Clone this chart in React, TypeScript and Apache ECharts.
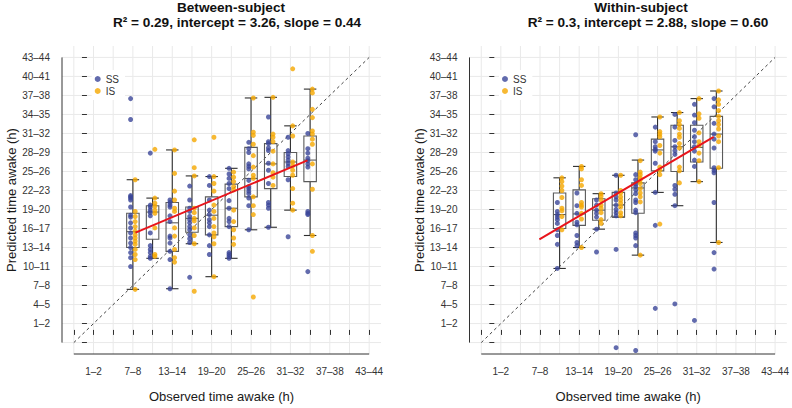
import React, { useEffect, useRef } from "react";
import * as echarts from "echarts";

// ---- axis values (hours) ----
const TICKS = [-2, 1, 4, 7, 10, 13, 16, 19, 22, 25, 28, 31, 34, 37, 40, 43];
const X_LABEL_VALUES = [1, 7, 13, 19, 25, 31, 37, 43];
const Y_LABEL_VALUES = [1, 4, 7, 10, 13, 16, 19, 22, 25, 28, 31, 34, 37, 40, 43];
const AXIS_MIN = -3.8;
const AXIS_MAX = 44.8;
const IDENTITY = [[-2, -2], [43, 43]];

// ---- Between-subject panel ----
const BETWEEN_TITLE = "Between-subject";
const BETWEEN_STATS = "R² = 0.29, intercept = 3.26, slope = 0.44";
const BETWEEN_X = [7, 10, 13, 16, 19, 22, 25, 28, 31, 34];
// [min, Q1, median, Q3, max]
const BETWEEN_BOX = [
  [6.4, 13.0, 15.5, 18.4, 23.7],
  [11.3, 14.3, 18.6, 19.6, 20.8],
  [6.5, 12.4, 16.9, 20.1, 28.4],
  [13.6, 15.4, 17.6, 19.4, 24.3],
  [8.4, 15.0, 18.1, 21.0, 24.2],
  [11.3, 16.3, 19.2, 23.0, 25.5],
  [15.8, 21.0, 23.9, 28.8, 36.6],
  [16.2, 22.3, 26.2, 29.4, 36.7],
  [18.9, 24.2, 26.5, 28.0, 32.2],
  [14.9, 23.4, 26.8, 30.6, 38.0],
];
const BETWEEN_SS = [
  [36.5, 33.2, 21.2, 21.0, 20.8, 20.5, 19.4, 18.1, 17.8, 16.9, 16.1, 15.3, 14.5, 13.7, 13.0, 12.2, 11.4, 10.0],
  [27.9, 19.7, 19.4, 18.9, 18.5, 18.0, 15.3, 13.3, 12.7, 12.2, 11.6, 11.3],
  [20.5, 20.1, 19.7, 19.4, 18.0, 17.1, 14.8, 14.5, 13.7, 12.4, 11.1, 6.5],
  [22.7, 20.5, 19.2, 18.7, 17.9, 17.4, 16.9, 16.3, 15.8, 15.0, 14.4, 13.8, 8.3],
  [24.2, 22.8, 20.5, 18.9, 18.2, 17.4, 16.9, 16.3, 15.0, 13.3, 11.9],
  [25.5, 24.6, 23.9, 23.1, 22.3, 20.4, 19.2, 17.6, 17.1, 16.3, 12.2, 11.9, 11.6, 11.3],
  [29.6, 28.6, 28.0, 26.2, 25.8, 25.4, 23.6, 22.6, 22.3, 21.9, 21.5, 20.8, 19.6, 15.8],
  [33.6, 29.7, 29.4, 28.7, 28.3, 26.3, 25.2, 23.1, 20.1, 19.7, 19.2, 16.2],
  [30.4, 28.3, 27.8, 27.3, 26.8, 26.3, 25.8, 23.7, 14.7],
  [31.0, 28.6, 27.9, 27.1, 26.7, 26.2, 25.7, 18.7, 18.4, 18.2, 9.2],
];
const BETWEEN_IS = [
  [23.7, 18.7, 17.9, 17.1, 16.3, 15.6, 15.0, 14.5, 14.0, 13.5, 12.7, 11.9, 11.1, 6.4],
  [28.5, 20.8, 20.0, 19.5, 18.9, 18.4, 16.1, 11.9, 11.6],
  [28.4, 24.7, 21.9, 20.5, 19.2, 18.7, 16.1, 14.8, 12.7, 11.4, 10.7],
  [30.0, 25.6, 24.3, 19.2, 18.5, 17.6, 17.2, 16.1, 14.9, 13.6, 6.1],
  [30.4, 24.2, 23.1, 21.9, 19.7, 18.7, 17.6, 16.3, 15.3, 14.7, 13.6, 8.4],
  [24.9, 24.1, 23.4, 22.6, 22.1, 18.9, 17.1, 15.8, 14.5, 13.5],
  [36.6, 31.2, 30.7, 29.3, 27.5, 25.7, 24.4, 23.9, 21.0, 19.6, 18.2, 5.2],
  [36.7, 30.9, 30.4, 29.7, 28.2, 26.2, 24.8, 24.1, 22.8],
  [41.2, 32.2, 30.6, 26.5, 25.9, 25.2, 24.4, 22.3, 20.0, 18.9],
  [38.0, 37.4, 34.8, 33.5, 31.4, 30.9, 30.1, 29.3, 26.2, 22.2, 14.9, 12.4],
];
const BETWEEN_FIT = [[7.4, 15.35], [33.6, 26.75]];

// ---- Within-subject panel ----
const WITHIN_TITLE = "Within-subject";
const WITHIN_STATS = "R² = 0.3, intercept = 2.88, slope = 0.60";
const WITHIN_X = [10, 13, 16, 19, 22, 25, 28, 31, 34];
const WITHIN_BOX = [
  [9.7, 16.0, 18.2, 21.6, 24.0],
  [13.0, 16.5, 18.3, 22.1, 25.8],
  [15.9, 17.3, 18.9, 20.7, 21.5],
  [17.8, 17.8, 19.7, 21.7, 24.4],
  [11.8, 18.4, 22.4, 23.2, 26.8],
  [21.7, 25.1, 28.4, 30.1, 33.6],
  [19.6, 25.0, 28.9, 32.3, 34.3],
  [23.4, 26.5, 28.8, 32.3, 36.5],
  [13.8, 25.5, 30.9, 33.7, 37.7],
];
const WITHIN_SS = [
  [20.1, 18.7, 18.2, 17.8, 17.4, 16.8, 15.8, 14.9, 13.5, 9.7],
  [21.6, 19.6, 18.4, 17.0, 16.6, 14.9, 13.8, 13.3],
  [20.5, 19.7, 18.9, 18.4, 17.8, 15.9, 12.3],
  [24.4, 21.6, 21.0, 20.5, 19.7, 19.0, 18.5, 18.0, 12.7, -2.8],
  [30.8, 24.5, 23.7, 23.0, 22.6, 22.1, 21.5, 20.5, 20.1, 18.9, 18.5, 15.3, 14.9, 14.5, 13.3, -3.25],
  [32.0, 29.7, 28.9, 28.5, 28.2, 26.3, 21.7, 16.5, 3.4],
  [34.0, 32.0, 29.9, 28.9, 28.3, 27.7, 22.8, 22.2, 21.4, 19.6, 4.1],
  [35.6, 33.9, 32.7, 31.5, 30.5, 29.7, 28.9, 28.2, 26.8, 25.8, 1.5],
  [36.5, 35.2, 32.6, 30.9, 30.1, 28.7, 25.6, 25.2, 24.8, 20.1, 12.2, 9.6],
];
const WITHIN_IS = [
  [24.0, 23.4, 22.7, 22.0, 20.9, 19.2, 18.8, 17.9, 15.8],
  [25.8, 25.4, 23.7, 22.8, 20.1, 19.7, 19.4, 18.4, 17.5, 13.0],
  [21.5, 21.1, 20.5, 19.7, 19.2, 18.5, 17.4, 16.8],
  [24.4, 22.0, 21.6, 21.0, 20.5, 20.0, 19.4, 18.5, 18.0],
  [26.7, 24.9, 24.5, 24.0, 23.7, 23.1, 22.3, 21.6, 21.0, 20.2, 11.8],
  [33.6, 31.3, 30.9, 30.5, 29.1, 27.9, 25.7, 25.2, 24.5, 16.7],
  [34.3, 33.0, 32.4, 31.8, 30.9, 30.4, 29.4, 28.7, 25.7, 25.1, 23.2],
  [36.5, 34.1, 33.4, 31.1, 29.7, 29.1, 27.9, 26.7, 23.4],
  [37.7, 36.3, 35.6, 34.6, 33.7, 33.0, 32.4, 31.7, 30.6, 29.7, 25.6, 13.8],
];
const WITHIN_FIT = [[6.9, 14.3], [33.6, 30.45]];

// ---- styles ----
const FONT = "'Liberation Sans', Arial, Helvetica, sans-serif";
const SS_COLOR = "#3B4699";
const IS_COLOR = "#F5A800";
const FIT_COLOR = "#E8141B";
const GRID_COLOR = "#E9E9E9";
const AXIS_COLOR = "#333333";
const BOX_COLOR = "#5a5a5a";
const WHISKER_COLOR = "#2e2e2e";
const BOX_WIDTH = 1.9;
const JITTER = 0.35;

const PANELS = [
  { left: 62, titleX: 231, statsX: 237, legendLeft: 91.7, title: BETWEEN_TITLE, stats: BETWEEN_STATS, xs: BETWEEN_X, box: BETWEEN_BOX, ss: BETWEEN_SS, is: BETWEEN_IS, fit: BETWEEN_FIT },
  { left: 469.5, titleX: 641, statsX: 648, legendLeft: 499, title: WITHIN_TITLE, stats: WITHIN_STATS, xs: WITHIN_X, box: WITHIN_BOX, ss: WITHIN_SS, is: WITHIN_IS, fit: WITHIN_FIT },
];

const fmt = (v: number) => `${v}–${v + 1}`;

function points(xs: number[], groups: number[][], offset: number) {
  return groups.flatMap((g, i) => g.map((v) => [xs[i] + offset, v]));
}

function frameRender(params: any, api: any) {
  const children: any[] = [];
  const line = (a: number[], b: number[], stroke: string) =>
    children.push({ type: "line", shape: { x1: a[0], y1: a[1], x2: b[0], y2: b[1] }, style: { stroke, lineWidth: 1 }, silent: true });
  TICKS.forEach((t) => {
    line(api.coord([t, AXIS_MIN]), api.coord([t, AXIS_MAX]), GRID_COLOR);
    line(api.coord([AXIS_MIN, t]), api.coord([AXIS_MAX, t]), GRID_COLOR);
  });
  const first = TICKS[0];
  const last = TICKS[TICKS.length - 1];
  line(api.coord([first, AXIS_MIN]), api.coord([last, AXIS_MIN]), AXIS_COLOR);
  line(api.coord([AXIS_MIN, first]), api.coord([AXIS_MIN, last]), AXIS_COLOR);
  return { type: "group", children };
}

function boxRender(params: any, api: any) {
  const x = api.value(0);
  const lo = api.coord([x, api.value(1)]);
  const q1 = api.coord([x, api.value(2)]);
  const md = api.coord([x, api.value(3)]);
  const q3 = api.coord([x, api.value(4)]);
  const hi = api.coord([x, api.value(5)]);
  const hw = api.size([BOX_WIDTH, 0])[0] / 2;
  const cx = lo[0];
  const ln = (x1: number, y1: number, x2: number, y2: number, stroke: string) => ({
    type: "line",
    shape: { x1, y1, x2, y2 },
    style: { stroke, lineWidth: 1.1 },
  });
  return {
    type: "group",
    children: [
      ln(cx, hi[1], cx, q3[1], WHISKER_COLOR),
      ln(cx, q1[1], cx, lo[1], WHISKER_COLOR),
      ln(cx - hw, hi[1], cx + hw, hi[1], WHISKER_COLOR),
      ln(cx - hw, lo[1], cx + hw, lo[1], WHISKER_COLOR),
      {
        type: "rect",
        shape: { x: cx - hw, y: q3[1], width: 2 * hw, height: q1[1] - q3[1] },
        style: { fill: "none", stroke: BOX_COLOR, lineWidth: 1.1 },
      },
      ln(cx - hw, md[1], cx + hw, md[1], BOX_COLOR),
    ],
  };
}

export default function App() {
  const ref = useRef<HTMLDivElement>(null);
  useEffect(() => {
    if (!ref.current) return;
    const chart = echarts.init(ref.current, null, { renderer: "svg" });
    const grid: any[] = [];
    const xAxis: any[] = [];
    const yAxis: any[] = [];
    const series: any[] = [];
    const legend: any[] = [];
    const graphic: any[] = [];

    PANELS.forEach((p, g) => {
      grid.push({ left: p.left, top: 46, width: 319, height: 312 });
      xAxis.push({
        gridIndex: g,
        type: "value",
        min: AXIS_MIN,
        max: AXIS_MAX,
        name: "Observed time awake (h)",
        nameLocation: "middle",
        nameGap: 36,
        nameTextStyle: { fontFamily: FONT, fontSize: 13, color: "#1a1a1a" },
        axisLine: { show: false },
        axisTick: { show: true, length: 5, customValues: TICKS, lineStyle: { color: AXIS_COLOR, width: 1 } },
        axisLabel: { customValues: X_LABEL_VALUES, formatter: fmt, margin: 12, fontFamily: FONT, fontSize: 10, color: "#333" },
        splitLine: { show: false },
      });
      yAxis.push({
        gridIndex: g,
        type: "value",
        min: AXIS_MIN,
        max: AXIS_MAX,
        name: "Predicted time awake (h)",
        nameLocation: "middle",
        nameGap: 42,
        nameTextStyle: { fontFamily: FONT, fontSize: 13, color: "#1a1a1a" },
        axisLine: { show: false },
        axisTick: { show: true, length: 5, customValues: TICKS, lineStyle: { color: AXIS_COLOR, width: 1 } },
        axisLabel: { customValues: Y_LABEL_VALUES, formatter: fmt, margin: 12, fontFamily: FONT, fontSize: 10, color: "#333" },
        splitLine: { show: false },
      });
      series.push(
        { type: "custom", xAxisIndex: g, yAxisIndex: g, data: [[0, 0]], renderItem: frameRender, silent: true, z: 0 },
        {
          type: "line", xAxisIndex: g, yAxisIndex: g, data: IDENTITY, symbol: "none", silent: true, z: 1,
          lineStyle: { color: "#444", width: 1, type: [3, 3] },
        },
        {
          type: "custom", xAxisIndex: g, yAxisIndex: g, z: 2, silent: true,
          data: p.box.map((b, i) => [p.xs[i], ...b]),
          renderItem: boxRender,
        },
        {
          name: "SS", type: "scatter", xAxisIndex: g, yAxisIndex: g, z: 3,
          data: points(p.xs, p.ss, -JITTER), symbolSize: 5, itemStyle: { color: SS_COLOR },
        },
        {
          name: "IS", type: "scatter", xAxisIndex: g, yAxisIndex: g, z: 3,
          data: points(p.xs, p.is, JITTER), symbolSize: 5, itemStyle: { color: IS_COLOR },
        },
        {
          type: "line", xAxisIndex: g, yAxisIndex: g, data: p.fit, symbol: "none", z: 4,
          lineStyle: { color: FIT_COLOR, width: 2 },
        }
      );
      legend.push({
        data: ["SS", "IS"],
        orient: "vertical",
        left: p.legendLeft,
        top: 70,
        padding: [3, 6, 3, 3],
        backgroundColor: "#ffffff",
        icon: "circle",
        itemWidth: 6,
        itemHeight: 6,
        itemGap: 0,
        selectedMode: false,
        textStyle: { fontFamily: FONT, fontSize: 10, color: "#333", lineHeight: 12 },
      });
      graphic.push(
        {
          type: "text", x: p.titleX, y: 7,
          style: { text: p.title, textAlign: "center", textVerticalAlign: "middle", fontFamily: FONT, fontSize: 13.6, fontWeight: "bold", fill: "#111" },
        },
        {
          type: "text", x: p.statsX, y: 22.5,
          style: { text: p.stats, textAlign: "center", textVerticalAlign: "middle", fontFamily: FONT, fontSize: 13.6, fontWeight: "bold", fill: "#111" },
        }
      );
    });

    chart.setOption({
      animation: false,
      backgroundColor: "#ffffff",
      grid,
      xAxis,
      yAxis,
      series,
      legend,
      graphic,
    });
    return () => chart.dispose();
  }, []);

  return (
    <div
      ref={ref}
      style={{ position: "absolute", left: 0, top: 0, width: 792, height: 408 }}
    />
  );
}
